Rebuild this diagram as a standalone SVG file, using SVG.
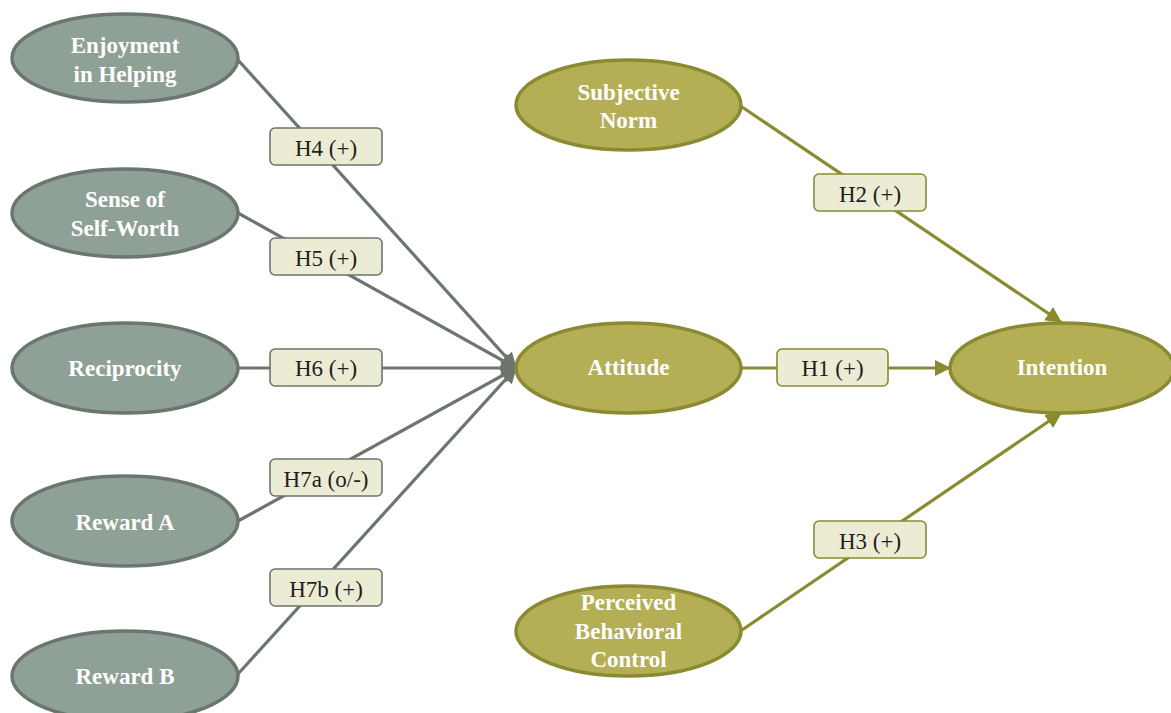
<svg xmlns="http://www.w3.org/2000/svg" width="1171" height="713" viewBox="0 0 1171 713">
<style>
.g ellipse{fill:#8fa096;stroke:#6b766e;stroke-width:3.5}
.o ellipse{fill:#b4ae55;stroke:#8a8a33;stroke-width:3.5}
.nt{font-family:"Liberation Serif",serif;font-weight:bold;font-size:23px;fill:#ffffff;text-anchor:middle}
.lb rect{fill:#ecebd3;stroke-width:1.6}
.lg rect{stroke:#6b766e}
.lo rect{stroke:#8a8a33}
.lt{font-family:"Liberation Serif",serif;font-size:23px;fill:#1e1e1e;text-anchor:middle}
.cg{stroke:#6b766e;stroke-width:3.2;fill:none}
.co{stroke:#8a8a33;stroke-width:3.2;fill:none}
</style>
<defs>
<marker id="ag" markerUnits="userSpaceOnUse" markerWidth="16" markerHeight="16" viewBox="0 0 16 16" refX="15" refY="8" orient="auto">
<path d="M0,0 L16,8 L0,16 Z" fill="#6b766e"/>
</marker>
<marker id="ao" markerUnits="userSpaceOnUse" markerWidth="16" markerHeight="16" viewBox="0 0 16 16" refX="15" refY="8" orient="auto">
<path d="M0,0 L16,8 L0,16 Z" fill="#8a8a33"/>
</marker>
</defs>
<rect width="1171" height="713" fill="#ffffff"/>
<g id="connectors">
<line class="cg" x1="238" y1="60" x2="516" y2="368" marker-end="url(#ag)"/>
<line class="cg" x1="238" y1="213" x2="516" y2="368" marker-end="url(#ag)"/>
<line class="cg" x1="238" y1="368" x2="516" y2="368" marker-end="url(#ag)"/>
<line class="cg" x1="238" y1="521" x2="516" y2="368" marker-end="url(#ag)"/>
<line class="cg" x1="238" y1="674" x2="516" y2="368" marker-end="url(#ag)"/>
<line class="co" x1="742" y1="368" x2="950" y2="368" marker-end="url(#ao)"/>
<line class="co" x1="742" y1="107" x2="1061" y2="322" marker-end="url(#ao)"/>
<line class="co" x1="742" y1="630" x2="1061" y2="413" marker-end="url(#ao)"/>
</g>
<g id="label-H4" class="lb lg"><rect x="270" y="128" width="112" height="37" rx="5"/><text class="lt" x="326" y="156">H4 (+)</text></g>
<g id="label-H5" class="lb lg"><rect x="270" y="238" width="112" height="37" rx="5"/><text class="lt" x="326" y="266">H5 (+)</text></g>
<g id="label-H6" class="lb lg"><rect x="270" y="349" width="112" height="37" rx="5"/><text class="lt" x="326" y="376">H6 (+)</text></g>
<g id="label-H7a" class="lb lg"><rect x="270" y="459" width="112" height="37" rx="5"/><text class="lt" x="326" y="487">H7a (o/-)</text></g>
<g id="label-H7b" class="lb lg"><rect x="270" y="569" width="112" height="37" rx="5"/><text class="lt" x="326" y="597">H7b (+)</text></g>
<g id="label-H2" class="lb lo"><rect x="814" y="174" width="112" height="37" rx="5"/><text class="lt" x="870" y="202">H2 (+)</text></g>
<g id="label-H1" class="lb lo"><rect x="777" y="349" width="111" height="37" rx="5"/><text class="lt" x="832.5" y="376">H1 (+)</text></g>
<g id="label-H3" class="lb lo"><rect x="814" y="521" width="112" height="37" rx="5"/><text class="lt" x="870" y="549">H3 (+)</text></g>
<g id="enjoyment" class="g"><ellipse cx="125" cy="58" rx="113" ry="44"/><text class="nt" x="125" y="53">Enjoyment</text><text class="nt" x="125" y="82">in Helping</text></g>
<g id="self-worth" class="g"><ellipse cx="125" cy="213" rx="113" ry="44"/><text class="nt" x="125" y="207">Sense of</text><text class="nt" x="125" y="236">Self-Worth</text></g>
<g id="reciprocity" class="g"><ellipse cx="125" cy="368" rx="113" ry="45"/><text class="nt" x="125" y="376">Reciprocity</text></g>
<g id="reward-a" class="g"><ellipse cx="125" cy="521" rx="113" ry="45"/><text class="nt" x="125" y="530">Reward A</text></g>
<g id="reward-b" class="g"><ellipse cx="125" cy="676" rx="113" ry="45"/><text class="nt" x="125" y="684">Reward B</text></g>
<g id="subjective-norm" class="o"><ellipse cx="628.5" cy="105" rx="112.5" ry="45"/><text class="nt" x="628.5" y="100">Subjective</text><text class="nt" x="628.5" y="128">Norm</text></g>
<g id="attitude" class="o"><ellipse cx="628.5" cy="368" rx="112.5" ry="45"/><text class="nt" x="628.5" y="375">Attitude</text></g>
<g id="pbc" class="o"><ellipse cx="628.5" cy="631" rx="112.5" ry="45"/><text class="nt" x="628.5" y="610">Perceived</text><text class="nt" x="628.5" y="639">Behavioral</text><text class="nt" x="628.5" y="667">Control</text></g>
<g id="intention" class="o"><ellipse cx="1062" cy="368" rx="112" ry="45"/><text class="nt" x="1062" y="375">Intention</text></g>
</svg>
